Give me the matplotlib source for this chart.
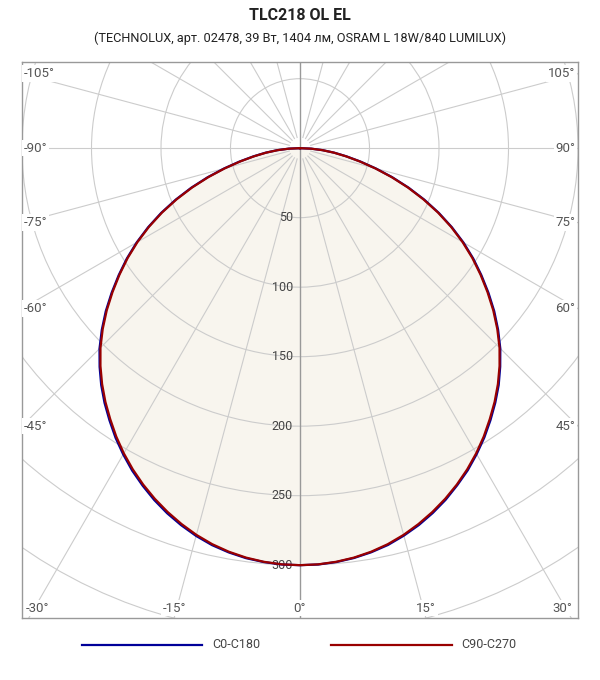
import matplotlib.pyplot as plt
from matplotlib.patches import Circle
from matplotlib.lines import Line2D
import numpy as np

# luminous intensity, cd/klm, every 2.5 degrees
gamma = [0, 2.5, 5, 7.5, 10, 12.5, 15, 17.5, 20, 22.5, 25, 27.5, 30, 32.5, 35, 37.5,
         40, 42.5, 45, 47.5, 50, 52.5, 55, 57.5, 60, 62.5, 65, 67.5, 70, 72.5, 75,
         77.5, 80, 82.5, 85, 87.5, 90]
i_c90 = [300, 299.7, 298.7, 297.1, 294.8, 291.8, 288, 283.5, 278.5, 273, 267, 260.5,
         253.5, 246, 238, 230, 221.5, 212.5, 203, 192.5, 181.5, 170, 158.5, 147, 135,
         122.5, 109.5, 96, 82.5, 69, 56, 44, 33.5, 24.5, 16, 8, 0]
i_c270 = [300, 299.7, 298.7, 297.1, 294.8, 291.8, 288, 283.5, 278.5, 273, 267, 260.5,
          253.5, 246, 238, 230, 221.5, 212.5, 203, 192.5, 181.5, 170, 158.5, 147, 135,
          122.5, 109.5, 96, 82.5, 69, 56, 44, 33.5, 24.5, 16, 8, 0]
i_c0 = [300, 299.8, 298.9, 297.4, 295.2, 292.4, 288.6, 284.3, 279.3, 273.8, 267.6, 261.3,
        254.2, 246.8, 238.9, 230.8, 222.4, 213.2, 203.8, 193.3, 182.4, 170.9, 159.3, 147.8,
        135.8, 123.2, 110.2, 96.8, 83.2, 69.7, 56.6, 44.6, 34, 24.9, 16.3, 8.1, 0]
i_c180 = [300, 299.8, 298.9, 297.5, 295.3, 292.5, 288.8, 284.4, 279.5, 274, 267.9, 261.5,
          254.4, 247, 239, 231, 222.5, 213.4, 204, 193.4, 182.4, 170.8, 159.2, 147.7,
          135.7, 123.2, 110.2, 96.8, 83.3, 69.8, 56.7, 44.7, 34.1, 25, 16.4, 8.1, 0]

series_names = ['C0-C180', 'C90-C270']
series_colors = ['#000099', '#990000']
rings = [50, 100, 150, 200, 250, 300]
angle_labels = [-105, -90, -75, -60, -45, -30, -15, 0, 15, 30, 45, 60, 75, 90, 105]

title = 'TLC218 OL EL'
subtitle = '(TECHNOLUX, арт. 02478, 39 Вт, 1404 лм, OSRAM L 18W/840 LUMILUX)'

plt.rcParams['font.family'] = ['Roboto', 'DejaVu Sans']

xmin, xmax, ymin, ymax = -200, 200, -338, 62


def to_xy(left, right):
    g = np.radians(np.concatenate([-np.array(gamma[::-1]), np.array(gamma[1:])]))
    r = np.concatenate([np.array(left[::-1]), np.array(right[1:])])
    return r * np.sin(g), -r * np.cos(g)


fig = plt.figure(figsize=(6, 6.8), dpi=100)
ax = fig.add_axes([22 / 600, 62 / 680, 556 / 600, 556 / 680])
ax.set_xlim(xmin, xmax)
ax.set_ylim(ymin, ymax)
ax.set_aspect('equal')
ax.set_xticks([])
ax.set_yticks([])
for s in ax.spines.values():
    s.set_color('#999999')
    s.set_linewidth(1.0)

# fill under the C90-C270 curve
fx, fy = to_xy(i_c270, i_c90)
ax.fill(fx, fy, color='#f8f5ee', zorder=0, lw=0)

# grid
for rr in range(50, 650, 50):
    ax.add_patch(Circle((0, 0), rr, fill=False, ec='#cccccc', lw=0.8, zorder=1))
for a in range(-165, 180, 15):
    if a in (0, 90, -90):
        continue
    t = np.radians(a)
    ax.plot([8 * np.sin(t), 700 * np.sin(t)], [-8 * np.cos(t), -700 * np.cos(t)],
            color='#cccccc', lw=0.8, zorder=1)
ax.axhline(0, color='#cccccc', lw=0.8, zorder=1)
ax.axvline(0, color='#999999', lw=1.0, zorder=1.5)

for rr in rings:
    ax.text(-5, -rr, str(rr), ha='right', va='center', fontsize=9,
            color='#444444', zorder=2)

# angle labels on the frame
for a in angle_labels:
    t = np.radians(a)
    dx, dy = np.sin(t), -np.cos(t)
    lab = f'{a}°'
    box = dict(fc='white', ec='none', pad=1.2)
    if abs(a) >= 45:
        xe = xmax if dx > 0 else xmin
        y = dy * xe / dx
        y = min(max(y, ymin + 6), ymax - 6)
        if dx > 0:
            ax.text(xmax - 2, y, lab, ha='right', va='center', fontsize=9.5,
                    color='#555555', bbox=box, zorder=3)
        else:
            ax.text(xmin + 1.5, y, lab, ha='left', va='center', fontsize=9.5,
                    color='#555555', bbox=box, zorder=3)
    else:
        x = dx * ymin / dy
        x = min(max(x, xmin + 11), xmax - 11)
        ax.text(x, ymin + 7, lab, ha='center', va='center', fontsize=9.5,
                color='#555555', bbox=box, zorder=3)

# curves
bx, by = to_xy(i_c180, i_c0)
ax.plot(bx, by, color=series_colors[0], lw=1.6, zorder=4, solid_joinstyle='round')
ax.plot(fx, fy, color=series_colors[1], lw=1.6, zorder=5, solid_joinstyle='round')

fig.text(0.5, 1 - 15 / 680, title, ha='center', va='center', fontsize=11.5,
         fontweight='bold', color='#222222')
fig.text(0.5, 1 - 38 / 680, subtitle, ha='center', va='center', fontsize=9.2,
         color='#222222')

# legend
ly = 1 - 645 / 680
for (x0, x1, xt), name, col in zip([(82, 202, 212), (331, 452, 461)], series_names, series_colors):
    fig.add_artist(Line2D([x0 / 600, x1 / 600], [ly, ly], color=col, lw=1.6))
    fig.text(xt / 600, ly, name, ha='left', va='center', fontsize=9, color='#444444')

fig.savefig('out.png', dpi=100)
